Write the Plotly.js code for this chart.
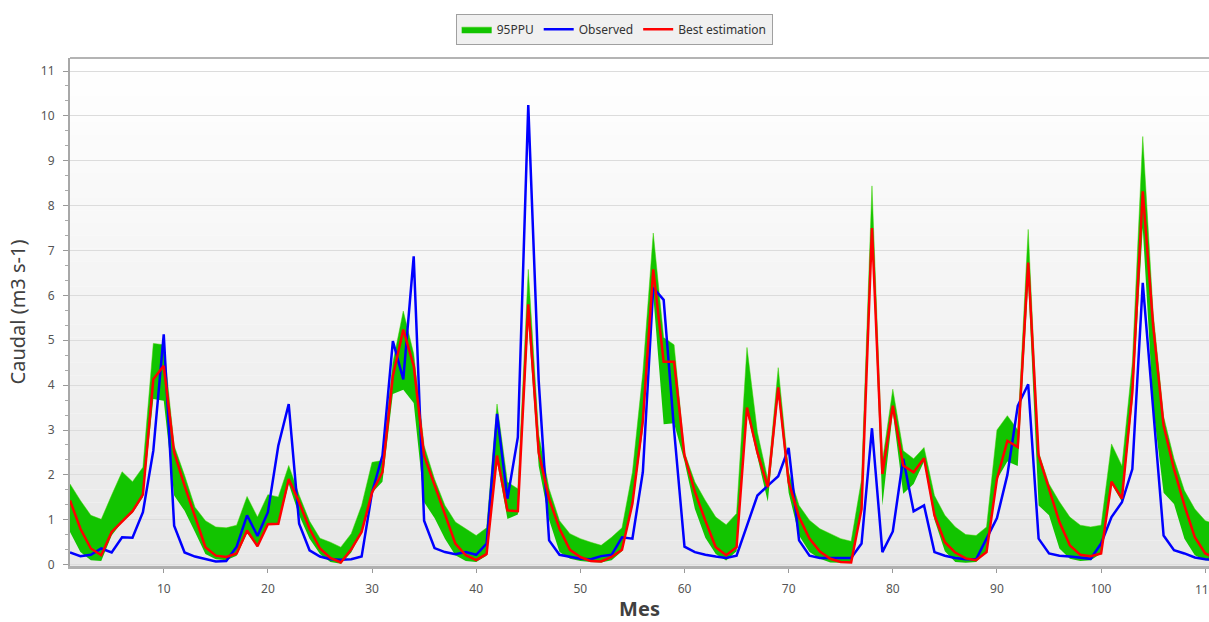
<!DOCTYPE html>
<html>
<head>
<meta charset="utf-8">
<script src="https://cdn.plot.ly/plotly-3.0.1.min.js"></script>
<style>html,body{margin:0;padding:0;background:#fff;}#chart{width:1209px;height:622px;}</style>
</head>
<body>
<div id="chart"></div>
<script>
var months = [1,2,3,4,5,6,7,8,9,10,11,12,13,14,15,16,17,18,19,20,21,22,23,24,25,26,27,28,29,30,
31,32,33,34,35,36,37,38,39,40,41,42,43,44,45,46,47,48,49,50,51,52,53,54,55,56,57,58,59,60,
61,62,63,64,65,66,67,68,69,70,71,72,73,74,75,76,77,78,79,80,81,82,83,84,85,86,87,88,89,90,
91,92,93,94,95,96,97,98,99,100,101,102,103,104,105,106,107,108,109,110,111];

var observed = [0.27,0.19,0.22,0.36,0.27,0.61,0.6,1.17,2.54,5.13,0.87,0.27,0.18,0.13,0.07,0.08,0.4,1.1,0.64,1.17,
2.65,3.58,0.91,0.32,0.18,0.12,0.11,0.12,0.18,1.61,2.43,4.98,4.13,6.87,0.98,0.37,0.28,0.23,0.28,0.22,
0.47,3.36,1.47,2.84,10.24,4.1,0.54,0.22,0.17,0.13,0.12,0.19,0.22,0.61,0.58,2.06,6.17,5.9,3.0,0.4,
0.28,0.22,0.18,0.15,0.2,0.85,1.54,1.76,1.97,2.6,0.54,0.2,0.15,0.15,0.15,0.15,0.47,3.04,0.28,0.74,
2.36,1.19,1.32,0.28,0.2,0.15,0.12,0.12,0.58,1.04,2.0,3.54,4.02,0.58,0.25,0.2,0.18,0.15,0.13,0.47,
1.06,1.39,2.13,6.28,3.47,0.65,0.32,0.25,0.16,0.12,0.1];

var bestEstimation = [1.43,0.8,0.36,0.21,0.73,0.96,1.19,1.56,4.13,4.43,2.5,1.76,1.06,0.39,0.2,0.17,0.25,0.76,0.41,0.9,
0.91,1.91,1.39,0.8,0.36,0.15,0.05,0.34,0.73,1.61,2.06,4.2,5.24,4.43,2.43,1.76,1.13,0.47,0.21,0.1,
0.24,2.43,1.21,1.19,5.8,2.5,1.47,0.8,0.33,0.17,0.08,0.07,0.17,0.33,1.36,3.2,6.58,4.52,4.52,2.43,
1.62,0.98,0.39,0.21,0.39,3.5,2.5,1.73,3.95,1.84,1.06,0.58,0.29,0.13,0.06,0.05,1.24,7.5,2.02,3.54,
2.21,2.06,2.37,1.1,0.5,0.27,0.14,0.1,0.28,1.91,2.76,2.62,6.73,2.43,1.69,0.95,0.43,0.22,0.19,0.25,
1.85,1.47,3.84,8.32,5.32,3.1,2.13,1.32,0.61,0.25,0.15];

var ppuUpper = [1.8,1.43,1.1,1.01,1.55,2.07,1.85,2.17,4.93,4.9,2.65,1.99,1.28,0.98,0.84,0.82,0.88,1.52,1.06,1.56,
1.51,2.21,1.55,0.97,0.59,0.5,0.39,0.69,1.32,2.28,2.32,4.5,5.65,4.7,2.65,1.91,1.32,0.95,0.8,0.65,
0.82,3.58,1.84,1.69,6.58,2.9,1.69,0.98,0.69,0.58,0.5,0.43,0.61,0.82,2.06,4.28,7.39,5.06,4.9,2.5,
1.84,1.43,1.06,0.89,1.14,4.84,2.95,1.9,4.39,2.06,1.32,0.99,0.8,0.69,0.58,0.52,1.9,8.44,2.3,3.91,
2.54,2.36,2.61,1.54,1.1,0.84,0.67,0.65,0.84,3.0,3.32,3.0,7.47,2.5,1.8,1.4,1.06,0.88,0.84,0.88,
2.69,2.2,4.5,9.54,5.6,3.3,2.36,1.65,1.24,0.98,0.9];

var ppuLower = [0.73,0.28,0.1,0.08,0.65,0.95,1.15,1.5,3.69,3.65,1.54,1.2,0.73,0.24,0.12,0.1,0.2,0.7,0.4,0.9,
0.9,1.8,1.1,0.58,0.24,0.06,0.02,0.27,0.73,1.6,1.85,3.8,3.9,3.6,1.39,1.04,0.58,0.21,0.08,0.06,
0.2,2.3,1.02,1.12,5.4,2.2,1.0,0.28,0.13,0.08,0.06,0.05,0.1,0.3,1.3,3.0,6.0,3.13,3.15,2.3,
1.24,0.6,0.24,0.09,0.3,3.4,2.4,1.4,3.8,1.6,0.65,0.28,0.13,0.05,0.04,0.04,1.2,7.3,1.32,3.4,
1.58,1.8,2.3,1.0,0.3,0.06,0.04,0.06,0.3,1.9,2.3,2.2,6.3,1.32,1.1,0.36,0.13,0.08,0.1,0.25,
1.8,1.4,3.6,7.5,3.5,1.6,1.35,0.58,0.21,0.1,0.08];

var xTickVals = [10,20,30,40,50,60,70,80,90,100,110];
var yTickVals = [0,1,2,3,4,5,6,7,8,9,10,11];

var FONT = 'Noto Sans, DejaVu Sans, sans-serif';

var traces = [
  {x: months, y: ppuLower, type: 'scatter', mode: 'lines', line: {width: 0, color: 'rgb(18,196,0)'},
   showlegend: false, hoverinfo: 'skip'},
  {x: months, y: ppuUpper, type: 'scatter', mode: 'lines', name: '95PPU', fill: 'tonexty',
   fillcolor: 'rgb(18,196,0)', line: {width: 0.5, color: 'rgb(60,210,0)'}},
  {x: months, y: observed, type: 'scatter', mode: 'lines', name: 'Observed',
   line: {color: '#0000ff', width: 2.5}},
  {x: months, y: bestEstimation, type: 'scatter', mode: 'lines', name: 'Best estimation',
   line: {color: '#ff0000', width: 2.5}}
];

// background gradient bands (style only)
var shapes = [];
var nBands = 40;
for (var i = 0; i < nBands; i++) {
  var t = i / (nBands - 1);
  var c = Math.round(255 - t * 24);
  shapes.push({type: 'rect', xref: 'paper', yref: 'paper', x0: 0, x1: 1,
    y0: 1 - (i + 1) / nBands, y1: 1 - i / nBands,
    fillcolor: 'rgb(' + c + ',' + c + ',' + c + ')', line: {width: 0}, layer: 'below'});
}
shapes.push({type: 'line', xref: 'paper', yref: 'paper', x0: 0, x1: 1, y0: 1, y1: 1,
  line: {color: '#b4b4b4', width: 2}, layer: 'above'});

// last tick label, which runs off the right edge of the page as in the reference
var annotations = [{
  xref: 'x', yref: 'paper', x: xTickVals[xTickVals.length - 1], y: 0, yanchor: 'top', xanchor: 'center',
  yshift: -13, text: String(xTickVals[xTickVals.length - 1]), showarrow: false,
  font: {family: FONT, size: 12, color: '#555'}
}];

var layout = {
  width: 1209, height: 622,
  margin: {l: 70, r: 0, t: 58, b: 56},
  paper_bgcolor: '#ffffff',
  plot_bgcolor: '#ffffff',
  font: {family: FONT, size: 12, color: '#444'},
  showlegend: true,
  legend: {
    orientation: 'h', traceorder: 'normal', xref: 'container', yref: 'container',
    x: 0.508, xanchor: 'center', y: 0.978, yanchor: 'top',
    bgcolor: '#f0f0f0', bordercolor: '#a0a0a0', borderwidth: 1,
    font: {family: FONT, size: 12, color: '#333'}, itemwidth: 30
  },
  xaxis: {
    range: [1, 110.36], tickvals: xTickVals, ticktext: xTickVals.map(String),
    showgrid: false, zeroline: false,
    showline: true, linecolor: '#b0b0b0', linewidth: 3,
    ticks: 'outside', ticklen: 4, tickcolor: '#999', ticklabelstandoff: 6,
    tickfont: {family: FONT, size: 12, color: '#555'},
    title: {text: '<b>Mes</b>', font: {family: FONT, size: 20, color: '#404040'}, standoff: 13}
  },
  yaxis: {
    range: [-0.03, 11.29], tickvals: yTickVals, ticktext: yTickVals.map(String),
    showgrid: true, gridcolor: '#dcdcdc', gridwidth: 1, zeroline: false,
    showline: true, linecolor: '#a8a8a8', linewidth: 2,
    ticks: 'outside', ticklen: 5, tickcolor: '#999', ticklabelstandoff: 6,
    minor: {dtick: 1/3, ticks: 'outside', ticklen: 3, tickcolor: '#aaa', showgrid: false},
    tickfont: {family: FONT, size: 12, color: '#555'},
    title: {text: 'Caudal (m3 s-1)', font: {family: FONT, size: 20, color: '#404040'}, standoff: 10}
  },
  shapes: shapes,
  annotations: annotations
};

Plotly.newPlot('chart', traces, layout, {staticPlot: true, displayModeBar: false});
</script>
</body>
</html>
